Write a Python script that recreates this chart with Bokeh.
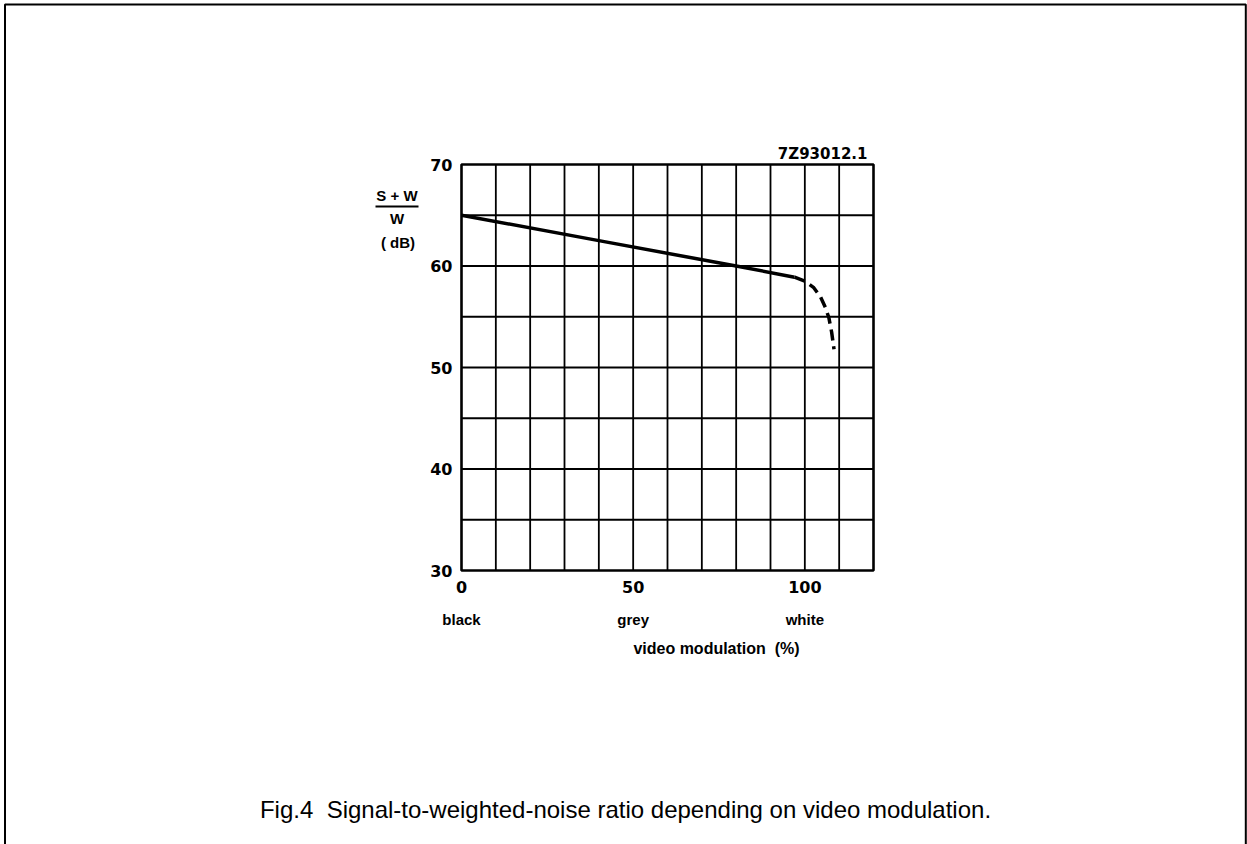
from bokeh.plotting import figure
from bokeh.models import Range1d, FixedTicker, Label
from bokeh.embed import file_html
from bokeh.resources import INLINE

# ---- data ----
x_min, x_max = 0, 120
y_min, y_max = 30, 70
x_ticks = [0, 50, 100]
y_ticks = [30, 40, 50, 60, 70]
grid_x = [10, 20, 30, 40, 50, 60, 70, 80, 90, 100, 110]
grid_y = [35, 40, 45, 50, 55, 60, 65]
x_sub_ticks = [0, 50, 100]
x_sub_labels = ["black", "grey", "white"]
solid_x = [0, 40, 80, 97]
solid_y = [65.0, 62.5, 60.0, 58.9]
dash_x = [97, 100, 102.5, 104.5, 106, 107, 107.8, 108.5]
dash_y = [58.9, 58.5, 57.9, 57.0, 55.9, 54.9, 53.5, 51.8]
figure_code = "7Z93012.1"
y_label_top = "S + W"
y_label_bottom = "W"
y_label_unit = "(\u00a0dB)"
x_label = "video modulation\u00a0\u00a0(%)"
caption = "Fig.4\u00a0\u00a0Signal-to-weighted-noise ratio depending on video modulation."

# ---- layout (page pixels) ----
W, H = 1247, 844
PX0, PX1 = 461, 873      # x_min / x_max on page
PY1, PY0 = 164, 570      # y_max / y_min on page
sx = (PX1 - PX0) / (x_max - x_min)
sy = (PY0 - PY1) / (y_max - y_min)

def dx(px):
    return x_min + (px - PX0) / sx

def dy(py):
    return y_max - (py - PY1) / sy

p = figure(width=W, height=H,
           x_range=Range1d(dx(0), dx(W)), y_range=Range1d(dy(H), dy(0)),
           output_backend="svg", toolbar_location=None, min_border=0)
p.background_fill_color = "white"
p.border_fill_color = "white"
p.outline_line_color = None
p.grid.visible = False

p.xaxis.fixed_location = y_min
p.yaxis.fixed_location = x_min
p.xaxis.ticker = FixedTicker(ticks=x_ticks)
p.yaxis.ticker = FixedTicker(ticks=y_ticks)
for ax, so in ((p.xaxis, 10), (p.yaxis, 9)):
    ax.axis_line_color = None
    ax.major_tick_line_color = None
    ax.minor_tick_line_color = None
    ax.major_tick_out = 0
    ax.major_tick_in = 0
    ax.major_label_standoff = so
    ax.major_label_text_font = "DejaVu Sans"
    ax.major_label_text_font_style = "bold"
    ax.major_label_text_font_size = "16px"
    ax.major_label_text_color = "black"

# chart grid and box
p.segment(x0=grid_x, y0=[y_min] * len(grid_x), x1=grid_x, y1=[y_max] * len(grid_x),
          line_color="black", line_width=1.8)
p.segment(x0=[x_min] * len(grid_y), y0=grid_y, x1=[x_max] * len(grid_y), y1=grid_y,
          line_color="black", line_width=1.8)
p.quad(left=[x_min], right=[x_max], bottom=[y_min], top=[y_max],
       fill_color=None, line_color="black", line_width=2.6)

# curve
p.line(solid_x, solid_y, line_width=3.5, color="black")
p.line(dash_x, dash_y, line_width=3.5, color="black", line_dash="11 6")

def lab(x, y, text, font="Liberation Sans", size="15px", style="bold", align="center", baseline="middle"):
    p.add_layout(Label(x=x, y=y, text=text, text_font=font, text_font_size=size,
                       text_font_style=style, text_align=align, text_baseline=baseline,
                       text_color="black"))

lab(dx(867), dy(153), figure_code, font="DejaVu Sans", size="15px", align="right")
lab(dx(396.5), dy(195), y_label_top)
lab(dx(396.5), dy(218), y_label_bottom)
lab(dx(397.5), dy(242), y_label_unit)
p.segment(x0=[dx(375)], y0=[dy(206)], x1=[dx(418)], y1=[dy(206)], line_color="black", line_width=2)
for xv, t in zip(x_sub_ticks, x_sub_labels):
    lab(xv, dy(619), t, baseline="alphabetic")
lab(dx(716), dy(647.5), x_label, size="16px", baseline="alphabetic")
lab(dx(625), dy(809), caption, size="24px", style="normal", baseline="alphabetic")

# page frame (open at the bottom)
p.line(x=[dx(4.5), dx(4.5), dx(1245.3), dx(1245.3)], y=[dy(H + 10), dy(4), dy(4), dy(H + 10)],
       line_color="black", line_width=2)

open("out.html", "w").write(file_html(p, INLINE))
